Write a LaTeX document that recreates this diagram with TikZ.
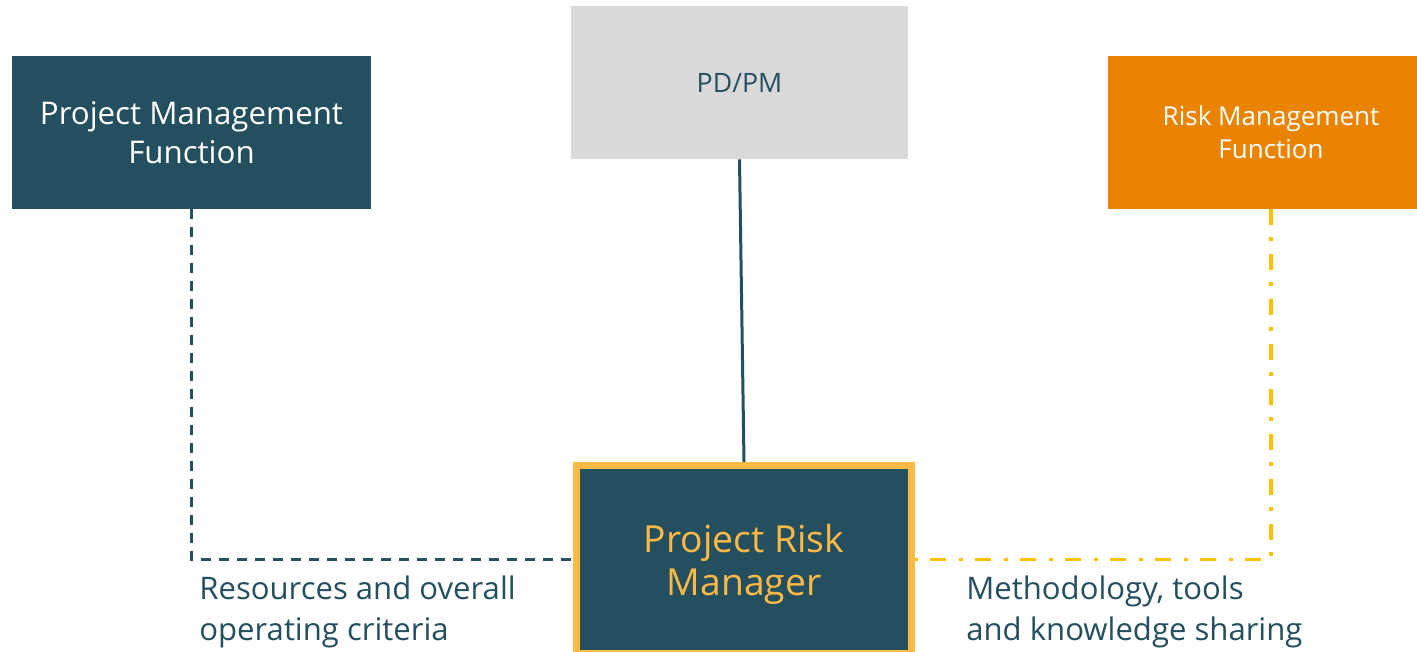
\documentclass[tikz,border=0pt]{standalone}
\usepackage{fontspec}
\setmainfont{Open Sans}
\usepackage{xcolor}
\usetikzlibrary{positioning}
\definecolor{myteal}{RGB}{35,79,94}
\definecolor{mygray}{RGB}{217,217,217}
\definecolor{myorange}{RGB}{233,131,0}
\definecolor{mygold}{RGB}{255,185,70}
\definecolor{myyellow}{RGB}{255,192,0}

\begin{document}
\begin{tikzpicture}[x=0.02cm, y=-0.02cm]
    \tikzstyle{box}=[minimum height=3.06cm, align=center, inner sep=0pt, text=white]
    \tikzstyle{lbl}=[anchor=north west, align=left, inner sep=0pt, text=myteal, font=\fontsize{17.7}{22.8}\selectfont]
    \useasboundingbox (0,0) rectangle (1417,652);
    \clip (0,0) rectangle (1417,652);
    \node[box, fill=myteal, minimum width=7.18cm, font=\fontsize{17.8}{22.2}\selectfont] (pmf) at (191.5,132.5) {Project Management\\Function};
    \node[box, fill=mygray, minimum width=6.74cm, text=myteal, font=\fontsize{15.2}{18}\selectfont] (pd) at (739.5,82.5) {PD/PM};
    \node[box, fill=myorange, minimum width=6.52cm, font=\fontsize{14.8}{18.8}\selectfont] (rmf) at (1271,132.5) {Risk Management\\Function};
    \node[box, fill=myteal, draw=mygold, line width=0.14cm, minimum width=6.7cm, minimum height=3.76cm, text depth=0pt, text=mygold, font=\fontsize{21.2}{24.5}\selectfont] (prm) at (744,559.5) {Project Risk\\Manager};
    \draw[myteal, line width=0.06cm] (pd.south) -- (prm.north);
    \draw[myteal, line width=0.06cm, dash pattern=on 0.2cm off 0.16cm] (pmf.south) |- (prm.west);
    \draw[myyellow, line width=0.07cm, dash pattern=on 0.32cm off 0.24cm on 0.08cm off 0.26cm] (rmf.south) |- (prm.east);
    \node[lbl] (reslbl) at (199,576) {Resources and overall\\operating criteria};
    \node[lbl] (methlbl) at (966,576) {Methodology, tools\\and knowledge sharing};
  \end{tikzpicture}
\end{document}
